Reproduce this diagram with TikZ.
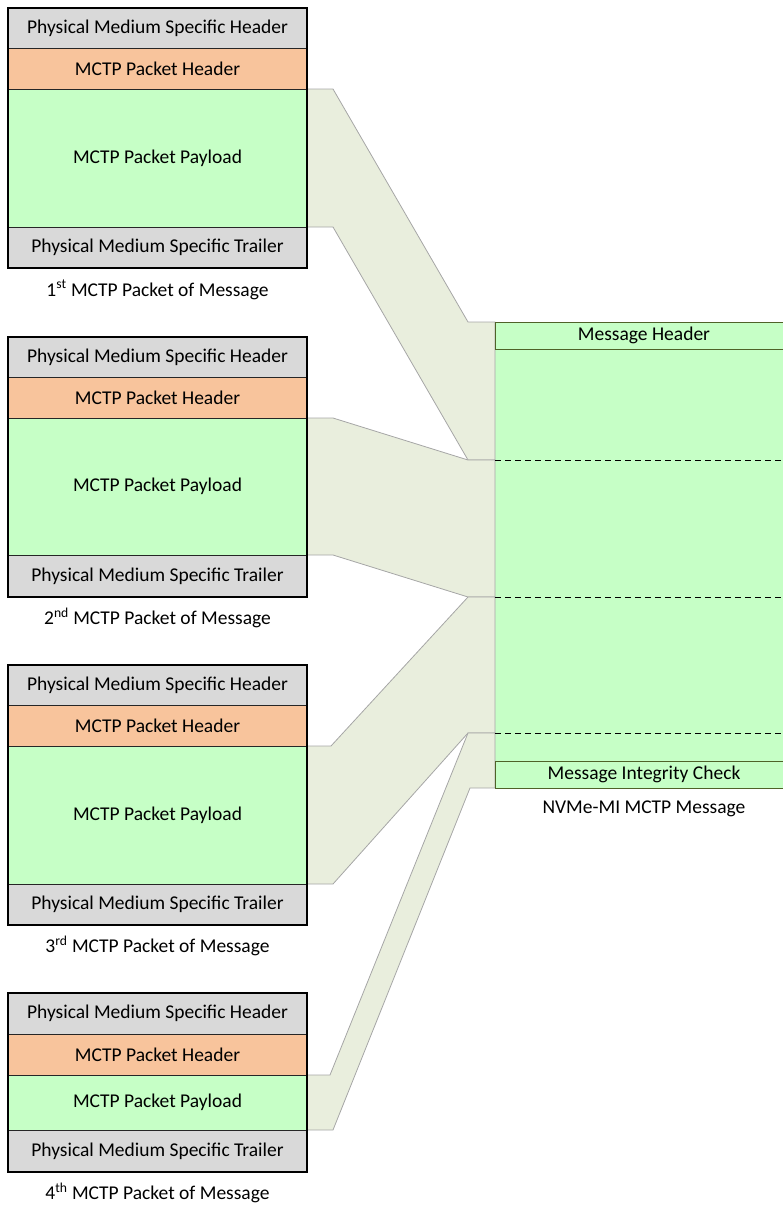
\documentclass[tikz,border=0pt]{standalone}
\usepackage{fontspec}
\setmainfont{Carlito}
\usetikzlibrary{calc}
\definecolor{pmsgray}{HTML}{D9D9D9}
\definecolor{hdrorange}{HTML}{F8C49C}
\definecolor{paygreen}{HTML}{C6FFC6}
\definecolor{bandfill}{HTML}{E9EEDD}
\definecolor{bandline}{HTML}{A6A6A6}
\definecolor{olive}{HTML}{4F6228}
\tikzset{
  rowbox/.style={draw=black!85, line width=0.8pt, anchor=north west, inner sep=0pt, outer sep=0pt,
    minimum width=299pt, font=\fontsize{19.5}{22}\selectfont},
  pms/.style={rowbox, fill=pmsgray},
  mhdr/.style={rowbox, fill=hdrorange},
  pay/.style={rowbox, fill=paygreen},
  frame/.style={draw=black, line width=2pt},
  caption/.style={font=\fontsize{19.5}{22}\selectfont, anchor=center, inner sep=0pt},
  band/.style={fill=bandfill, draw=bandline, line width=0.8pt, line join=miter},
  msgbox/.style={draw=olive, line width=0.9pt, fill=paygreen, anchor=north west, inner sep=0pt, outer sep=0pt,
    minimum width=298pt, font=\fontsize{19.5}{22}\selectfont},
  msgbody/.style={fill=paygreen, anchor=north west, inner sep=0pt, outer sep=0pt, minimum width=298pt},
  seg/.style={draw=black, line width=1pt, dash pattern=on 6pt off 4pt},
}
\begin{document}
\begin{tikzpicture}[x=1pt,y=-1pt]
\useasboundingbox (0,0) rectangle (783,1205);
% ---- right: message
\node[msgbody, minimum height=111pt] (s1) at (495,349) {};
\node[msgbody, minimum height=137pt] (s2) at (495,460) {};
\node[msgbody, minimum height=136pt] (s3) at (495,597) {};
\node[msgbody, minimum height=28pt] (s4) at (495,733) {};
% ---- packets
% packet 1
\node[pms, minimum height=40.5pt] (h1) at (8,8) {Physical Medium Specific Header};
\node[mhdr, minimum height=40.5pt] (c1) at (8,48.5) {MCTP Packet Header};
\node[pay, minimum height=138pt] (p1) at (8,89) {MCTP Packet Payload};
\node[pms, minimum height=41pt] (t1) at (8,227) {Physical Medium Specific Trailer};
\node[caption] (l1) at (157.5,290) {1\textsuperscript{st} MCTP Packet of Message};
% packet 2
\node[pms, minimum height=40.5pt] (h2) at (8,337) {Physical Medium Specific Header};
\node[mhdr, minimum height=40.5pt] (c2) at (8,377.5) {MCTP Packet Header};
\node[pay, minimum height=137pt] (p2) at (8,418) {MCTP Packet Payload};
\node[pms, minimum height=42pt] (t2) at (8,555) {Physical Medium Specific Trailer};
\node[caption] (l2) at (157.5,618) {2\textsuperscript{nd} MCTP Packet of Message};
% packet 3
\node[pms, minimum height=40.5pt] (h3) at (8,665) {Physical Medium Specific Header};
\node[mhdr, minimum height=40.5pt] (c3) at (8,705.5) {MCTP Packet Header};
\node[pay, minimum height=138pt] (p3) at (8,746) {MCTP Packet Payload};
\node[pms, minimum height=41pt] (t3) at (8,884) {Physical Medium Specific Trailer};
\node[caption] (l3) at (157.5,946) {3\textsuperscript{rd} MCTP Packet of Message};
% packet 4
\node[pms, minimum height=41pt] (h4) at (8,993) {Physical Medium Specific Header};
\node[mhdr, minimum height=41pt] (c4) at (8,1034) {MCTP Packet Header};
\node[pay, minimum height=55pt] (p4) at (8,1075) {MCTP Packet Payload};
\node[pms, minimum height=42pt] (t4) at (8,1130) {Physical Medium Specific Trailer};
\node[caption] (l4) at (157.5,1193) {4\textsuperscript{th} MCTP Packet of Message};
% ---- message header / MIC
\node[msgbox, minimum height=27pt] (mh) at (495,322) {Message Header};
\node[msgbox, minimum height=27pt] (mic) at (495,761) {Message Integrity Check};
\node[caption] (ml) at (644,809) {NVMe-MI MCTP Message};
% ---- bands (connectors)
\draw[band] (p1.north east) -- ++(26,0) -- ($(mh.north west)+(-27,0)$) -- (mh.north west)
  -- (s1.south west) -- ($(s1.south west)+(-27,0)$) -- ($(p1.south east)+(26,0)$) -- (p1.south east);
\draw[band] (p2.north east) -- ++(26,0) -- ($(s2.north west)+(-27,0)$) -- (s2.north west)
  -- (s2.south west) -- ($(s2.south west)+(-27,0)$) -- ($(p2.south east)+(26,0)$) -- (p2.south east);
\draw[band] (p3.north east) -- ++(24,0) -- ($(s3.north west)+(-27,0)$) -- (s3.north west)
  -- (s3.south west) -- ($(s3.south west)+(-27,0)$) -- ($(p3.south east)+(26,0)$) -- (p3.south east);
\draw[band] (p4.north east) -- ++(23,0) -- ($(s4.north west)+(-27,0)$) -- (s4.north west)
  -- (mic.south west) -- ($(mic.south west)+(-25,0)$) -- ($(p4.south east)+(26,0)$) -- (p4.south east);
% redraw message header / MIC borders on top
\draw[draw=olive, line width=0.9pt] (mh.north west) rectangle (mh.south east);
\draw[draw=olive, line width=0.9pt] (mic.north west) rectangle (mic.south east);
% dashed segment borders
\draw[seg] (s2.north west) -- (s2.north east);
\draw[seg] (s3.north west) -- (s3.north east);
\draw[seg] (s4.north west) -- (s4.north east);
% packet frames
\draw[frame] (h1.north west) rectangle (t1.south east);
\draw[frame] (h2.north west) rectangle (t2.south east);
\draw[frame] (h3.north west) rectangle (t3.south east);
\draw[frame] (h4.north west) rectangle (t4.south east);
\end{tikzpicture}
\end{document}
